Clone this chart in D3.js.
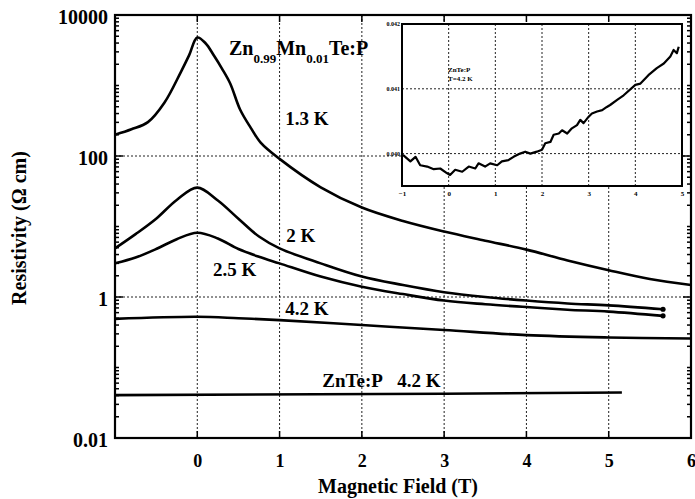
<!DOCTYPE html>
<html><head><meta charset="utf-8">
<script src="https://cdn.jsdelivr.net/npm/d3@7"></script>
<style>
body{margin:0;background:#fff}
svg{display:block}
text{font-family:"Liberation Serif","Times New Roman",serif;font-weight:bold;fill:#000}
</style>
</head><body>
<svg id="c" width="695" height="499"></svg>
<script>
// ---------- data ----------
const xTickVals = [0, 1, 2, 3, 4, 5, 6];
const yTickVals = [0.01, 1, 100, 10000];
const yTickLabels = ["0.01", "1", "100", "10000"];

const field13 = [-1,-0.8,-0.6,-0.4,-0.2,-0.1,0,0.1,0.2,0.3,0.4,0.52,0.65,0.77,1,1.5,2,2.5,3,3.5,4,4.5,5,5.5,6];
const rho13   = [200,239,302,569,1550,2670,4790,3980,2690,1740,1070,457,251,155,91,36,18.6,12,8.5,6.3,4.7,3.3,2.4,1.8,1.48];

const field2 = [-1,-0.75,-0.5,-0.25,0,0.25,0.5,0.75,1,1.5,2,2.5,3,3.5,4,4.5,5,5.66];
const rho2   = [4.9,7.8,12.9,23.8,35.6,23.4,12.9,7.2,4.9,3.0,1.95,1.48,1.17,1.0,0.89,0.81,0.76,0.67];

const field25 = [-1,-0.75,-0.5,-0.25,0,0.25,0.5,0.75,1,1.5,2,2.5,3,3.5,4,4.5,5,5.66];
const rho25   = [3.0,3.63,4.79,6.61,8.17,6.76,4.79,3.72,3.0,1.95,1.40,1.10,0.89,0.79,0.72,0.66,0.62,0.54];

const field42 = [-1,0,0.5,1,2,3,4,5,6];
const rho42   = [0.49,0.525,0.50,0.47,0.40,0.34,0.288,0.267,0.258];

const fieldZnTe = [-1,3,5.16];
const rhoZnTe   = [0.0405,0.0425,0.0442];

const insetXTicks = [-1,0,1,2,3,4,5];
const insetYTicks = [0.040,0.041,0.042];
const insetYLabels = ["0.040","0.041","0.042"];
const insetField = [-0.98,-0.82,-0.71,-0.61,-0.46,-0.32,-0.18,-0.04,0.03,0.14,0.29,0.43,0.57,0.64,0.78,0.89,1.04,1.14,1.28,1.39,1.53,1.64,1.75,1.89,2.00,2.07,2.18,2.25,2.36,2.43,2.54,2.64,2.75,2.82,2.89,3.00,3.07,3.18,3.29,3.39,3.46,3.61,3.75,4.00,4.11,4.28,4.46,4.61,4.75,4.82,4.89,4.93];
const insetRho = [0.03998,0.03988,0.03995,0.03982,0.03980,0.03976,0.03977,0.03970,0.03967,0.03975,0.03972,0.03980,0.03977,0.03985,0.03980,0.03985,0.03982,0.03988,0.03990,0.03995,0.04000,0.04003,0.04000,0.04003,0.04006,0.04016,0.04018,0.04029,0.04031,0.04036,0.04031,0.04039,0.04044,0.04052,0.04047,0.04057,0.04062,0.04065,0.04067,0.04072,0.04075,0.04083,0.04090,0.04106,0.04108,0.04121,0.04132,0.04139,0.04150,0.04160,0.04155,0.04165];

const curveLabels = [
  {text:"1.3 K", x:1.07, y:275},
  {text:"2 K", x:1.08, y:6.0},
  {text:"2.5 K", x:0.19, y:1.98},
  {text:"4.2 K", x:1.07, y:0.553},
  {text:"ZnTe:P\u00a0\u00a0\u00a04.2 K", x:1.52, y:0.053}
];

// ---------- layout ----------
const svg = d3.select("#c");
const L = 115, R = 691, T = 15, B = 438;
const x = d3.scaleLinear().domain([-1, 6]).range([L, R]);
const y = d3.scaleLog().domain([0.01, 10000]).range([B, T]);

// grid
const grid = svg.append("g").attr("stroke", "#222").attr("stroke-width", 1).attr("stroke-dasharray", "2,2");
xTickVals.filter(d => d > -1 && d < 6).forEach(d => {
  grid.append("line").attr("x1", x(d)).attr("x2", x(d)).attr("y1", T).attr("y2", B);
});
[1, 100].forEach(d => {
  grid.append("line").attr("x1", L).attr("x2", R).attr("y1", y(d)).attr("y2", y(d));
});

// minor/major ticks on left and right (inward)
const allY = y.ticks();
const tk = svg.append("g").attr("stroke", "#000").attr("stroke-width", 1.5);
allY.forEach(d => {
  const len = yTickVals.includes(d) ? 8 : 4;
  tk.append("line").attr("x1", L).attr("x2", L + len).attr("y1", y(d)).attr("y2", y(d));
  tk.append("line").attr("x1", R).attr("x2", R - len).attr("y1", y(d)).attr("y2", y(d));
});
xTickVals.filter(d => d > -1 && d < 6).forEach(d => {
  tk.append("line").attr("x1", x(d)).attr("x2", x(d)).attr("y1", B).attr("y2", B - 7);
  tk.append("line").attr("x1", x(d)).attr("x2", x(d)).attr("y1", T).attr("y2", T + 7);
});

// frame
svg.append("rect").attr("x", L).attr("y", T).attr("width", R - L).attr("height", B - T)
  .attr("fill", "none").attr("stroke", "#000").attr("stroke-width", 2.2);

// axes labels via d3 axes
const yAxis = d3.axisLeft(y).tickValues(yTickVals)
  .tickFormat((d, i) => yTickLabels[i]).tickSize(0).tickPadding(7);
const gy = svg.append("g").attr("transform", `translate(${L},0)`).call(yAxis);
gy.select(".domain").remove();
gy.selectAll("text").attr("font-size", 20).attr("dy", "0.42em")
  .style("font-family", '"Liberation Serif",serif').style("font-weight", "bold");

const xAxis = d3.axisBottom(x).tickValues(xTickVals).tickFormat(d3.format("d")).tickSize(0).tickPadding(16);
const gx = svg.append("g").attr("transform", `translate(0,${B})`).call(xAxis);
gx.select(".domain").remove();
gx.selectAll("text").attr("font-size", 18)
  .style("font-family", '"Liberation Serif",serif').style("font-weight", "bold");

// axis titles
svg.append("text").attr("x", 398).attr("y", 493).attr("text-anchor", "middle")
  .attr("font-size", 20).text("Magnetic Field (T)");
svg.append("text").attr("transform", "translate(26,228) rotate(-90)").attr("text-anchor", "middle")
  .attr("font-size", 20).text("Resistivity  (\u03a9 cm)");

// curves
const line = d3.line().x(d => x(d[0])).y(d => y(d[1])).curve(d3.curveCatmullRom.alpha(0.5));
const lin = d3.line().x(d => x(d[0])).y(d => y(d[1]));
const series = [
  [field13, rho13, line],
  [field2, rho2, line],
  [field25, rho25, line],
  [field42, rho42, line],
  [fieldZnTe, rhoZnTe, lin]
];
series.forEach(([fx, ry, gen]) => {
  svg.append("path").datum(fx.map((v, i) => [v, ry[i]]))
    .attr("fill", "none").attr("stroke", "#000").attr("stroke-width", 2.6)
    .attr("stroke-linejoin", "round").attr("d", gen);
});
// end dots
[[field2, rho2], [field25, rho25]].forEach(([fx, ry]) => {
  const n = fx.length - 1;
  svg.append("circle").attr("cx", x(fx[n])).attr("cy", y(ry[n])).attr("r", 2.6).attr("fill", "#000");
});

// curve labels
curveLabels.forEach(l => {
  svg.append("text").attr("x", x(l.x)).attr("y", y(l.y)).attr("font-size", 19).text(l.text);
});

// compound label
const ct = svg.append("text").attr("x", 229).attr("y", 55).attr("font-size", 20);
ct.append("tspan").text("Zn");
ct.append("tspan").attr("font-size", 13).attr("dy", 8).text("0.99");
ct.append("tspan").attr("dy", -8).text("Mn");
ct.append("tspan").attr("font-size", 13).attr("dy", 8).text("0.01");
ct.append("tspan").attr("dy", -8).text("Te:P");

// ---------- inset ----------
const iL = 402, iR = 682, iT = 24, iB = 186;
const ix = d3.scaleLinear().domain([-1, 5]).range([iL, iR]);
const iy = d3.scaleLinear().domain([0.0395, 0.042]).range([iB, iT]);
svg.append("rect").attr("x", iL).attr("y", iT).attr("width", iR - iL).attr("height", iB - iT)
  .attr("fill", "#fff");
const ig = svg.append("g").attr("stroke", "#222").attr("stroke-width", 1).attr("stroke-dasharray", "2,2");
insetXTicks.filter(d => d > -1 && d < 5).forEach(d => {
  ig.append("line").attr("x1", ix(d)).attr("x2", ix(d)).attr("y1", iT).attr("y2", iB);
});
insetYTicks.filter(d => d < 0.042).forEach(d => {
  ig.append("line").attr("x1", iL).attr("x2", iR).attr("y1", iy(d)).attr("y2", iy(d));
});
svg.append("path").datum(insetField.map((v, i) => [v, insetRho[i]]))
  .attr("fill", "none").attr("stroke", "#000").attr("stroke-width", 2.2).attr("stroke-linejoin", "round")
  .attr("d", d3.line().x(d => ix(d[0])).y(d => iy(d[1])));
svg.append("rect").attr("x", iL).attr("y", iT).attr("width", iR - iL).attr("height", iB - iT)
  .attr("fill", "none").attr("stroke", "#000").attr("stroke-width", 2);

const iyAxis = d3.axisLeft(iy).tickValues(insetYTicks).tickFormat((d, i) => insetYLabels[i]).tickSize(0).tickPadding(2);
const giy = svg.append("g").attr("transform", `translate(${iL},0)`).call(iyAxis);
giy.select(".domain").remove();
giy.selectAll("text").attr("font-size", 6).style("font-family", '"Liberation Serif",serif').style("font-weight", "bold");
const ixAxis = d3.axisBottom(ix).tickValues(insetXTicks).tickFormat(d3.format("d")).tickSize(0).tickPadding(5);
const gix = svg.append("g").attr("transform", `translate(0,${iB})`).call(ixAxis);
gix.select(".domain").remove();
gix.selectAll("text").attr("font-size", 7).style("font-family", '"Liberation Serif",serif').style("font-weight", "bold");

svg.append("text").attr("x", 448).attr("y", 72).attr("font-size", 7).text("ZnTe:P");
svg.append("text").attr("x", 448).attr("y", 81).attr("font-size", 7).text("T=4.2 K");
</script>
</body></html>
